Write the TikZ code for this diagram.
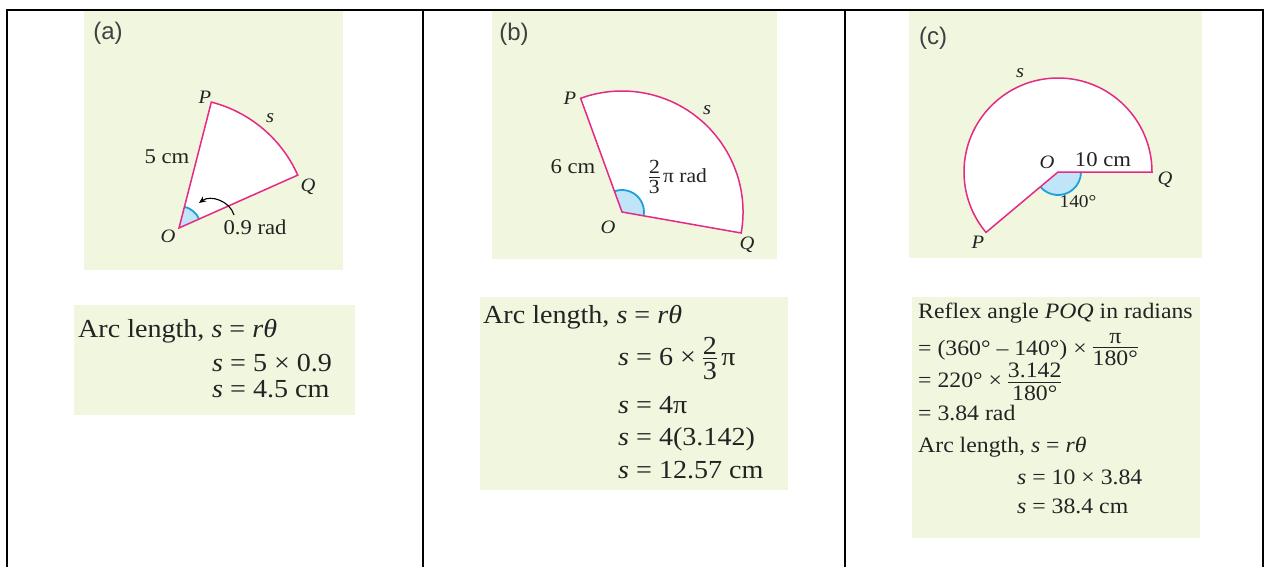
\documentclass[tikz,border=0pt]{standalone}
\usepackage{fontspec}
\setmainfont{Liberation Serif}[FakeStretch=1.08]
\setsansfont{Liberation Sans}
\usetikzlibrary{arrows.meta}
\definecolor{panelgreen}{RGB}{241,246,223}
\definecolor{arcpink}{RGB}{228,42,132}
\definecolor{wedgeblue}{RGB}{192,229,248}
\definecolor{wedgeline}{RGB}{28,160,222}
\definecolor{inkgray}{RGB}{35,35,35}
\newcommand{\frc}[2]{\ensuremath{\vcenter{\offinterlineskip\halign{\hfil##\hfil\cr #1\cr\noalign{\kern3.5pt\hrule height1.1pt\kern3pt}#2\cr}}}}
\tikzset{
  rule/.style={line width=2pt},
  panel/.style={fill=panelgreen},
  sectorline/.style={draw=arcpink, line width=1.5pt, line join=miter},
  wedge/.style={fill=wedgeblue},
  wedgearc/.style={draw=wedgeline, line width=1.8pt},
  pt/.style={font=\fontsize{19}{22}\selectfont\itshape, text=inkgray, inner sep=0pt},
  dim/.style={font=\fontsize{21}{24}\selectfont, text=inkgray, inner sep=0pt},
  tag/.style={font=\fontsize{24}{28}\selectfont\sffamily, text=black!75, inner sep=0pt},
  work/.style={font=\fontsize{26}{30}\selectfont, text=inkgray, anchor=base west, inner sep=0pt},
  worksm/.style={font=\fontsize{22}{26}\selectfont, text=inkgray, anchor=base west, inner sep=0pt},
}
\begin{document}
\begin{tikzpicture}[x=1pt,y=1pt]
  % three sectors, arc length s = r theta
  \useasboundingbox (0,0) rectangle (1268,-567);
  \fill[white] (0,0) rectangle (1268,-567);
  \draw[rule] (7,-567) -- (7,-10) -- (1263,-10) -- (1263,-567);
  \draw[rule] (423,-10) -- (423,-567);
  \draw[rule] (845,-10) -- (845,-567);
  \fill[panel] (84,-11) rectangle (343,-270);
  \fill[panel] (492,-11) rectangle (777,-259);
  \fill[panel] (909,-11) rectangle (1202,-258);
  \fill[panel] (74,-305) rectangle (355,-415);
  \fill[panel] (480,-297) rectangle (788,-490);
  \fill[panel] (912,-297) rectangle (1200,-538);

  % (a)
  \node[tag] (taga) at (108,-33) {(a)};
  \coordinate (Oa) at (179,-228);
  \coordinate (Qa) at ([shift={(24:130)}]Oa);
  \coordinate (Pa) at ([shift={(75.6:130)}]Oa);
  \fill[white] (Oa) -- (Qa) arc[start angle=24, end angle=75.6, radius=130] -- cycle;
  \fill[wedge] (Oa) -- ([shift={(24:22)}]Oa) arc[start angle=24, end angle=75.6, radius=22] -- cycle;
  \draw[wedgearc] ([shift={(24:22)}]Oa) arc[start angle=24, end angle=75.6, radius=22];
  \draw[sectorline] (Oa) -- (Qa) arc[start angle=24, end angle=75.6, radius=130] -- cycle;
  \node[pt] (Pla) at (205,-97) {P};
  \node[pt] (sla) at (270,-118) {s};
  \node[pt] (Qla) at (308,-187) {Q};
  \node[pt] (Ola) at (168,-236) {O};
  \node[dim] (ra) at (167,-157) {5 cm};
  \node[dim] (anga) at (255,-227) {0.9 rad};
  \coordinate (arrs) at (234,-215);
  \coordinate (arre) at (199,-203);
  \draw[line width=1.1pt, -{Stealth[length=7pt,width=6pt]}] (arrs) to[bend right=55] (arre);

  % (b)
  \node[tag] (tagb) at (514,-34) {(b)};
  \coordinate (Ob) at (622,-212);
  \coordinate (Qb) at ([shift={(-10:121)}]Ob);
  \coordinate (Pb) at ([shift={(110:121)}]Ob);
  \fill[white] (Ob) -- (Qb) arc[start angle=-10, end angle=110, radius=121] -- cycle;
  \fill[wedge] (Ob) -- ([shift={(-10:22)}]Ob) arc[start angle=-10, end angle=110, radius=22] -- cycle;
  \draw[wedgearc] ([shift={(-10:22)}]Ob) arc[start angle=-10, end angle=110, radius=22];
  \draw[sectorline] (Ob) -- (Qb) arc[start angle=-10, end angle=110, radius=121] -- cycle;
  \node[pt] (Plb) at (570,-98) {P};
  \node[pt] (slb) at (707,-110) {s};
  \node[pt] (Qlb) at (747,-245) {Q};
  \node[pt] (Olb) at (608,-227) {O};
  \node[dim] (rb) at (573,-167) {6 cm};
  \node[dim, font=\fontsize{20}{23}\selectfont] (angb) at (678,-177) {\frc{2}{3}\,π rad};

  % (c)
  \node[tag] (tagc) at (933,-38) {(c)};
  \coordinate (Oc) at (1058,-172);
  \coordinate (Qc) at ([shift={(0:94)}]Oc);
  \coordinate (Pc) at ([shift={(220:94)}]Oc);
  \fill[white] (Oc) -- (Qc) arc[start angle=0, end angle=220, radius=94] -- cycle;
  \fill[wedge] (Oc) -- ([shift={(220:23)}]Oc) arc[start angle=220, end angle=360, radius=23] -- cycle;
  \draw[wedgearc] ([shift={(220:23)}]Oc) arc[start angle=220, end angle=360, radius=23];
  \draw[sectorline] (Oc) -- (Qc) arc[start angle=0, end angle=220, radius=94] -- cycle;
  \node[pt] (slc) at (1020,-73) {s};
  \node[pt] (Olc) at (1047,-162) {O};
  \node[pt] (Qlc) at (1165,-180) {Q};
  \node[pt] (Plc) at (978,-242) {P};
  \node[dim] (rc) at (1103,-160) {10 cm};
  \node[dim, font=\fontsize{18}{21}\selectfont] (angc) at (1078,-202) {140°};

  % working
  \node[work] (wa1) at (78,-337) {Arc length, \textit{s} = \textit{rθ}};
  \node[work] (wa2) at (212,-371) {\textit{s} = 5 × 0.9};
  \node[work] (wa3) at (212,-397) {\textit{s} = 4.5 cm};

  \node[work] (wb1) at (483,-323) {Arc length, \textit{s} = \textit{rθ}};
  \node[work] (wb2) at (618,-365) {\textit{s} = 6 × \frc{2}{3}\,π};
  \node[work] (wb3) at (618,-413) {\textit{s} = 4π};
  \node[work] (wb4) at (618,-445) {\textit{s} = 4(3.142)};
  \node[work] (wb5) at (618,-478) {\textit{s} = 12.57 cm};

  \node[worksm] (wc1) at (918,-318) {Reflex angle \textit{POQ} in radians};
  \node[worksm] (wc2) at (918,-355) {= (360° – 140°) × \frc{π}{180°}};
  \node[worksm] (wc3) at (918,-387) {= 220° × \frc{3.142}{180°}};
  \node[worksm] (wc4) at (918,-420) {= 3.84 rad};
  \node[worksm] (wc5) at (918,-452) {Arc length, \textit{s} = \textit{rθ}};
  \node[worksm] (wc6) at (1017,-484) {\textit{s} = 10 × 3.84};
  \node[worksm] (wc7) at (1017,-513) {\textit{s} = 38.4 cm};
\end{tikzpicture}
\end{document}
